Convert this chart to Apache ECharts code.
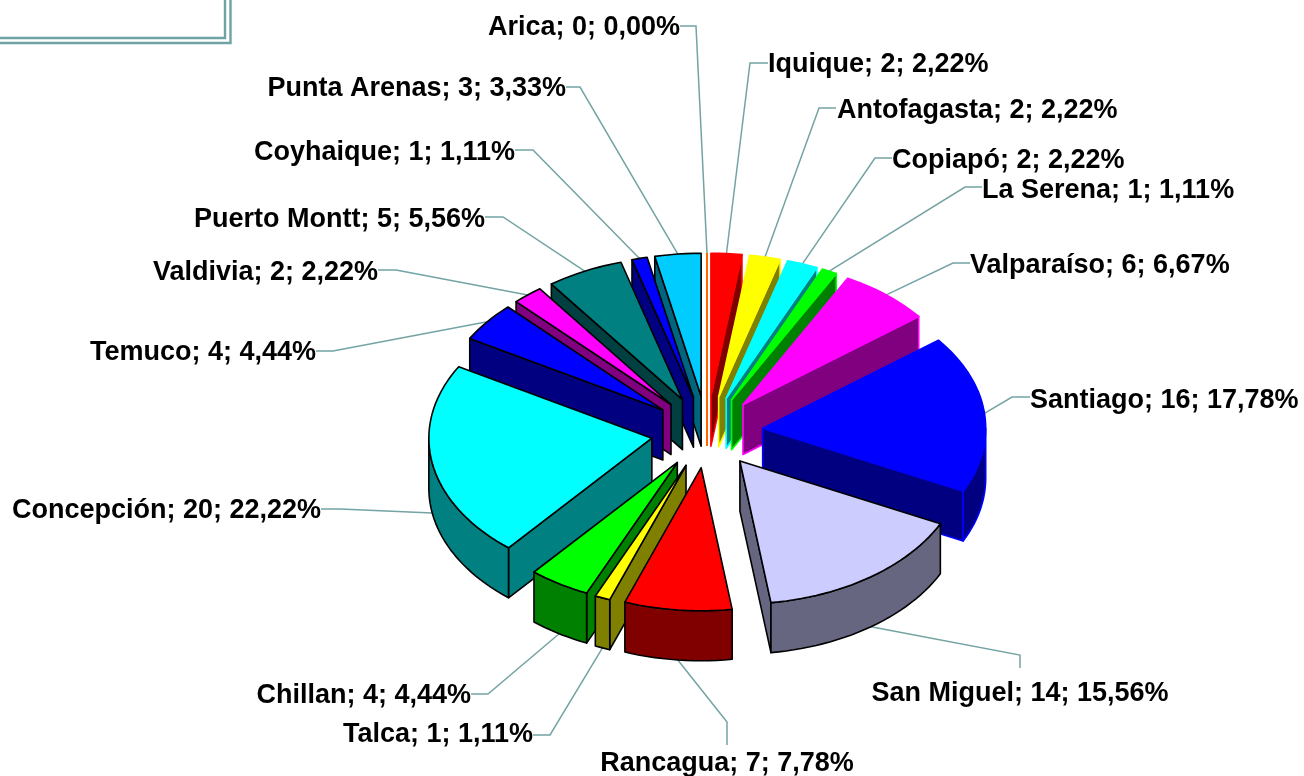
<!DOCTYPE html>
<html lang="es">
<head>
    <title>Distribución por ciudad</title>
    <meta charset="utf-8">
    <script src="https://cdn.jsdelivr.net/npm/echarts@6/dist/echarts.min.js"></script>
    <style>
        html, body { margin: 0; padding: 0; background: #fff; }
        #chart { width: 1304px; height: 776px; }
    </style>
</head>
<body>
<div id="chart"></div>
<script type="text/javascript">
    // data
    var cities = ['Arica', 'Iquique', 'Antofagasta', 'Copiapó', 'La Serena', 'Valparaíso', 'Santiago', 'San Miguel',
        'Rancagua', 'Talca', 'Chillan', 'Concepción', 'Temuco', 'Valdivia', 'Puerto Montt', 'Coyhaique', 'Punta Arenas'];
    var counts = [0, 2, 2, 2, 1, 6, 16, 14, 7, 1, 4, 20, 4, 2, 5, 1, 3];

    // slice colours, same order as cities
    var topColors = ['#ff6600', '#ff0000', '#ffff00', '#00ffff', '#00ff00', '#ff00ff', '#0000ff', '#ccccff',
        '#ff0000', '#ffff00', '#00ff00', '#00ffff', '#0000ff', '#ff00ff', '#008080', '#0000ff', '#00ccff'];
    var wallColors = ['#ff6600', '#800000', '#808000', '#008080', '#008000', '#800080', '#000080', '#666680',
        '#800000', '#808000', '#008000', '#008080', '#000080', '#800080', '#004040', '#000080', '#006680'];
    var edgeColors = ['#ff6600', '#ff0000', '#ffff00', '#00ffff', '#00ff00', '#ff00ff', '#0000ff', '#000000',
        '#000000', '#000000', '#000000', '#000000', '#000000', '#000000', '#000000', '#000000', '#000000'];

    // label layout: text anchor [x, y, align], then the elbow of the leader line
    var labelAnchors = [
        [680, 28, 'right'], [768, 65, 'left'], [837, 111, 'left'], [892, 161, 'left'], [982, 191, 'left'],
        [970, 266, 'left'], [1030, 401, 'left'], [1020, 694, 'center'], [727, 764, 'center'], [533, 735, 'right'],
        [471, 696, 'right'], [321, 511, 'right'], [316, 353, 'right'], [378, 273, 'right'], [485, 220, 'right'],
        [515, 153, 'right'], [566, 89, 'right']
    ];
    var leaderStarts = [
        [680, 26], [768, 63], [836, 108], [892, 158], [982, 187], [970, 263], [1030, 397], [1020, 668], [727, 745],
        [533, 735], [471, 694], [321, 509], [316, 351], [378, 270], [485, 217], [515, 150], [566, 87]
    ];
    var leaderElbows = [
        [696, 26], [750, 63], [819, 108], [875, 158], [965, 187], [953, 263], [1012, 397], [1020, 655], [727, 722],
        [550, 735], [488, 694], [340, 509], [333, 351], [396, 270], [503, 217], [533, 150], [580, 87]
    ];

    // pie geometry
    var cx = 707, cy = 432, rx = 223, ry = 143, depth = 50, explode = 56;
    var total = counts.reduce(function (a, b) { return a + b; }, 0);

    var slices = [];
    var sum = 0;
    counts.forEach(function (v, i) {
        var a0 = echarts.number.linearMap(sum, [0, total], [0, 360]);
        var a1 = echarts.number.linearMap(sum + v, [0, total], [0, 360]);
        slices.push({ i: i, a0: a0, a1: a1, mid: (a0 + a1) / 2 });
        sum += v;
    });

    function sin(d) { return Math.sin(d * Math.PI / 180); }
    function cos(d) { return Math.cos(d * Math.PI / 180); }

    function apexOf(s) {
        return [cx + explode * sin(s.mid), cy - explode * ry / rx * cos(s.mid)];
    }
    function rimPoint(s, a) {
        var p = apexOf(s);
        return [p[0] + rx * sin(a), p[1] - ry * cos(a)];
    }
    function down(p) { return [p[0], p[1] + depth]; }

    function arc(s, from, to) {
        var pts = [];
        var n = Math.max(2, Math.ceil((to - from) / 2));
        for (var k = 0; k <= n; k++) {
            pts.push(rimPoint(s, from + (to - from) * k / n));
        }
        return pts;
    }

    function poly(points, fill, edge, width) {
        return {
            type: 'polygon',
            shape: { points: points },
            style: { fill: fill, stroke: edge, lineWidth: width === undefined ? 1.6 : width, lineJoin: 'round' }
        };
    }

    function cutWall(s, a, wall, edge) {
        var p = apexOf(s), q = rimPoint(s, a);
        return poly([p, q, down(q), down(p)], wall, edge);
    }

    function renderSlice(params, api) {
        var s = slices[api.value(0)];
        var wall = wallColors[s.i], top = topColors[s.i], edge = edgeColors[s.i];
        var p = apexOf(s);
        var children = [];

        // zero slice only leaves a thin line
        if (s.a0 === s.a1) {
            return {
                type: 'polyline',
                shape: { points: [rimPoint(s, s.a0), down(p)] },
                style: { stroke: top, lineWidth: 2, fill: null }
            };
        }

        if (sin(s.a0) < 0) children.push(cutWall(s, s.a0, wall, edge));
        if (sin(s.a1) > 0) children.push(cutWall(s, s.a1, wall, edge));

        // outer wall, front half only
        var from = Math.max(s.a0, 90), to = Math.min(s.a1, 270);
        if (to > from) {
            var upper = arc(s, from, to);
            var lower = upper.map(down).reverse();
            children.push(poly(upper.concat(lower), wall, edge));
        }

        children.push(poly([p].concat(arc(s, s.a0, s.a1)), top, edge));
        return { type: 'group', children: children };
    }

    function labelText(i) {
        var pct = (counts[i] / total * 100).toFixed(2).replace('.', ',');
        return cities[i] + '; ' + counts[i] + '; ' + pct + '%';
    }

    function renderLabel(params, api) {
        var i = api.value(0);
        var s = slices[i];
        var end = rimPoint(s, s.mid);
        if (cos(s.mid) < 0) end = down(end);
        return {
            type: 'group',
            children: [{
                type: 'polyline',
                shape: { points: [leaderStarts[i], leaderElbows[i], end] },
                style: { stroke: '#74a3a3', lineWidth: 1.5, fill: null }
            }, {
                type: 'text',
                style: {
                    x: labelAnchors[i][0], y: labelAnchors[i][1], text: labelText(i),
                    align: labelAnchors[i][2], verticalAlign: 'middle',
                    font: 'bold 27px "Liberation Sans", Arial, sans-serif', fill: '#000'
                }
            }]
        };
    }

    // back to front
    var paintOrder = slices.slice().sort(function (a, b) { return cos(b.mid) - cos(a.mid); })
        .map(function (s) { return [s.i]; });

    function frameLine(pts) {
        return {
            type: 'polyline',
            shape: { points: pts },
            style: { stroke: '#6fa3a3', lineWidth: 2.4, fill: null }
        };
    }

    var chart = echarts.init(document.getElementById('chart'), null, { renderer: 'canvas' });
    chart.setOption({
        animation: false,
        backgroundColor: '#fff',
        graphic: [
            frameLine([[0, 38], [225, 38], [225, 0]]),
            frameLine([[0, 43], [230.5, 43], [230.5, 0]])
        ],
        series: [{
            type: 'custom',
            coordinateSystem: 'none',
            silent: true,
            z: 1,
            data: cities.map(function (c, i) { return [i]; }),
            renderItem: renderLabel
        }, {
            type: 'custom',
            coordinateSystem: 'none',
            silent: true,
            z: 2,
            data: paintOrder,
            renderItem: renderSlice
        }]
    });
</script>
</body>
</html>
